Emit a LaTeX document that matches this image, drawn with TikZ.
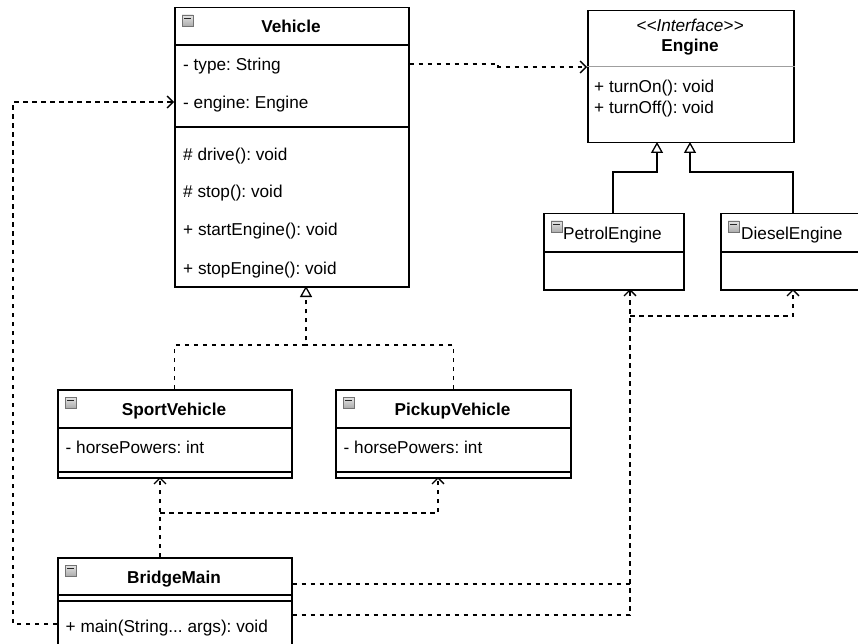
\documentclass[tikz,border=0pt]{standalone}
\usepackage{fontspec}
\setmainfont{Liberation Sans}
\usetikzlibrary{arrows.meta}
\frenchspacing
\begin{document}
\begin{tikzpicture}[x=1pt,y=-1pt,
  every node/.style={font=\fontsize{17.2}{20}\selectfont},
  box/.style={draw=black, line width=1.5pt, anchor=north west, inner sep=0pt, fill=white},
  sepline/.style={draw=black, line width=1.5pt},
  txt/.style={anchor=base west, inner sep=0pt},
  ttl/.style={anchor=base, inner sep=0pt, font=\fontsize{17.2}{20}\selectfont\bfseries},
  icon/.style={draw=black!55, line width=0.7pt, top color=gray!20, bottom color=gray!65,
    minimum size=11pt, inner sep=0pt,
    path picture={\draw[black!85, line width=1.5pt]
      ([xshift=2pt,yshift=-3.4pt]path picture bounding box.north west) --
      ([xshift=-2pt,yshift=-3.4pt]path picture bounding box.north east);}},
  dsh/.style={line width=1.3pt, dash pattern=on 4.5pt off 4.5pt},
  dep/.style={dsh, -{Straight Barb[length=6pt,width=12pt,line width=1.3pt]}},
  real/.style={dsh, -{Triangle[open,length=11pt,width=12pt,line width=1.3pt]}},
  gen/.style={line width=1.4pt, -{Triangle[open,length=11pt,width=12pt,line width=1.3pt]}}
]
\useasboundingbox (0,0) rectangle (858,644);
\clip (0,0) rectangle (858,644);
\fill[white] (0,0) rectangle (858,644);

% ---------- boxes ----------
\node[box, minimum width=234pt, minimum height=279pt] (veh) at (174,7) {};
\node[box, minimum width=206pt, minimum height=132pt] (eng) at (587,10) {};
\node[box, minimum width=140pt, minimum height=76pt] (pe) at (543,213) {};
\node[box, minimum width=170pt, minimum height=76pt] (de) at (720,213) {};
\node[box, minimum width=234pt, minimum height=88pt] (sv) at (57,389) {};
\node[box, minimum width=235pt, minimum height=88pt] (pv) at (335,389) {};
\node[box, minimum width=234pt, minimum height=110pt] (bm) at (57,557) {};

% ---------- separators ----------
\draw[sepline] (veh.west |- 0,45) -- (veh.east |- 0,45);
\draw[sepline] (veh.west |- 0,127) -- (veh.east |- 0,127);
\draw[gray!75, line width=1pt] (eng.west |- 0,67) -- (eng.east |- 0,67);
\draw[sepline] (pe.west |- 0,252) -- (pe.east |- 0,252);
\draw[sepline] (de.west |- 0,252) -- (de.east |- 0,252);
\draw[sepline] (sv.west |- 0,428) -- (sv.east |- 0,428);
\draw[sepline] (sv.west |- 0,472) -- (sv.east |- 0,472);
\draw[sepline] (pv.west |- 0,428) -- (pv.east |- 0,428);
\draw[sepline] (pv.west |- 0,472) -- (pv.east |- 0,472);
\draw[sepline] (bm.west |- 0,595) -- (bm.east |- 0,595);
\draw[sepline] (bm.west |- 0,601) -- (bm.east |- 0,601);

% ---------- icons ----------
\node[icon] (vicon) at (187.5,20.5) {};
\node[icon] (peicon) at (556.5,226.5) {};
\node[icon] (deicon) at (733.5,226.5) {};
\node[icon] (svicon) at (70.5,402.5) {};
\node[icon] (pvicon) at (348.5,402.5) {};
\node[icon] (bmicon) at (70.5,570.5) {};

% ---------- texts ----------
\node[ttl] (vtitle) at (291,33) {Vehicle};
\node[txt] (vtype) at (183,70.5) {- type: String};
\node[txt] (vengine) at (183,108.5) {- engine: Engine};
\node[txt] (vdrive) at (183,161) {\# drive(): void};
\node[txt] (vstop) at (183,198) {\# stop(): void};
\node[txt] (vstart) at (183,236) {+ startEngine(): void};
\node[txt] (vstopeng) at (183,274) {+ stopEngine(): void};

\node[anchor=base, inner sep=0pt, font=\fontsize{17.2}{20}\selectfont\itshape] (estereo) at (690,31.5) {\textless{}\textless{}Interface\textgreater{}\textgreater{}};
\node[ttl] (etitle) at (690,52) {Engine};
\node[txt] (eon) at (594,93) {+ turnOn(): void};
\node[txt] (eoff) at (594,114) {+ turnOff(): void};

\node[txt] (petitle) at (563,239) {PetrolEngine};
\node[txt] (detitle) at (741,239) {DieselEngine};

\node[ttl] (svtitle) at (174,415) {SportVehicle};
\node[txt] (svattr) at (65.5,453) {- horsePowers: int};
\node[ttl] (pvtitle) at (452.5,415) {PickupVehicle};
\node[txt] (pvattr) at (343.5,453) {- horsePowers: int};

\node[ttl] (bmtitle) at (174,583) {BridgeMain};
\node[txt] (bmmain) at (65.5,632) {+ main(String... args): void};

% ---------- connector points ----------
\coordinate (gj1) at (613,172);
\coordinate (gj2) at (793,172);
\coordinate (et1) at (657,142);
\coordinate (et2) at (690,142);
\coordinate (vj) at (498,64);
\coordinate (engin) at (587,67);
\coordinate (lx) at (13,102);
\coordinate (vin) at (174,102);
\coordinate (rj) at (306,345);
\coordinate (vb) at (306,286);
\coordinate (sa) at (160,477);
\coordinate (sj) at (160,513);
\coordinate (pa) at (438,477);
\coordinate (pa2) at (630,289);
\coordinate (ej) at (630,316);
\coordinate (ec) at (630,584);
\coordinate (da) at (793,289);

% ---------- connectors ----------
% generalization to Engine
\draw[gen] (pe.north -| gj1) -- (gj1) -| (et1);
\draw[gen] (de.north -| gj2) -- (gj2) -| (et2);
% Vehicle uses Engine
\draw[dep] (veh.east |- vj) -- (vj) -- (vj |- engin) -- (engin);
% BridgeMain uses Vehicle
\draw[dep] (bm.west |- 0,624) -| (lx) -- (vin);
% realization of Vehicle
\draw[real] (sv.north) |- (rj) -- (vb);
\draw[dsh] (pv.north) |- (rj);
% BridgeMain uses Sport / Pickup
\draw[dep] (bm.north -| sa) -- (sa);
\draw[dep] (sj) -| (pa);
% BridgeMain uses Petrol / Diesel
\draw[dsh] (bm.east |- ec) -- (ec);
\draw[dep] (bm.east |- 0,615) -| (pa2);
\draw[dep] (ej) -| (da);
\end{tikzpicture}
\end{document}
